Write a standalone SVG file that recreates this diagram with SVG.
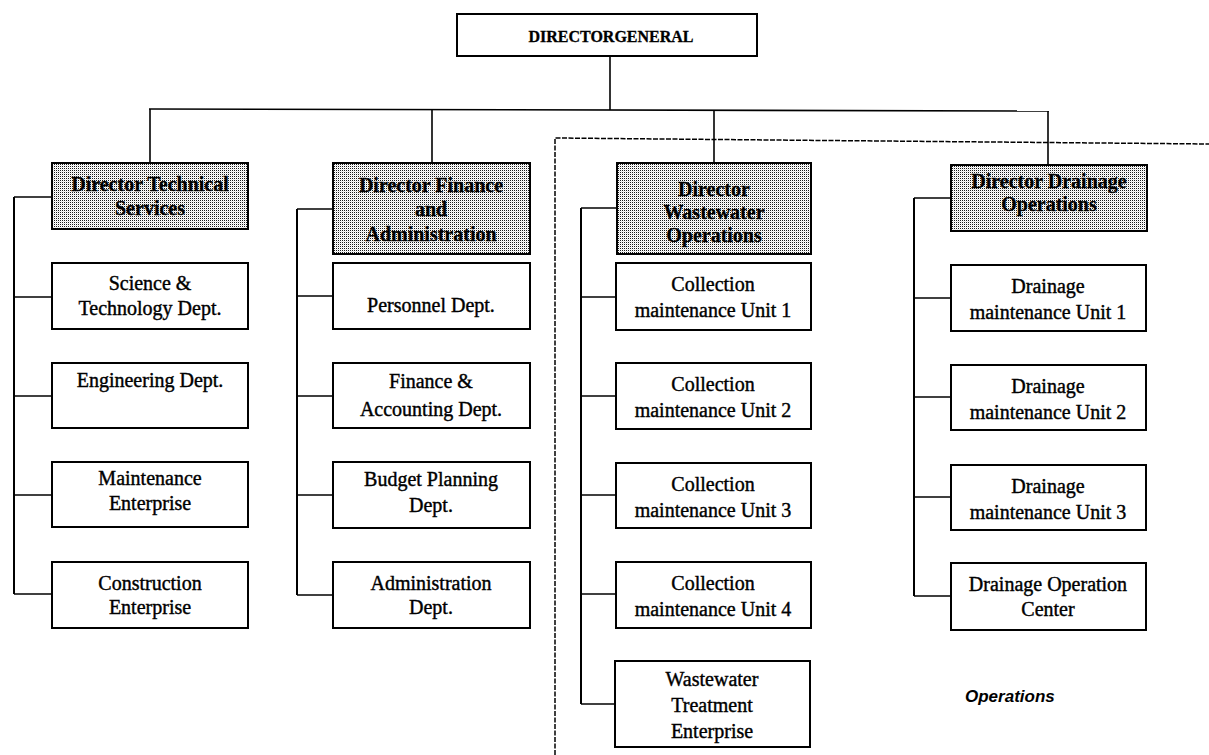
<svg xmlns="http://www.w3.org/2000/svg" width="1209" height="755" viewBox="0 0 1209 755">
  <defs>
    <!-- halftone screen used for the director boxes -->
    <pattern id="dots" patternUnits="userSpaceOnUse" x="0" y="0" width="2" height="2">
      <rect x="0" y="0" width="2" height="2" fill="#ffffff"/>
      <rect x="0" y="0" width="1" height="1" fill="#1a1a1a"/>
      <rect x="1" y="1" width="1" height="1" fill="#e2e2e2"/>
    </pattern>
    <style>
      .box { fill: #ffffff; stroke: #000000; stroke-width: 2; }
      .hdr { fill: url(#dots); stroke: #000000; stroke-width: 2; }
      .t { font-family: "Liberation Serif", "Times New Roman", serif; font-size: 20px; text-anchor: middle; fill: #000000; stroke: #000000; stroke-width: 0.4; }
      .h { font-weight: bold; font-size: 20px; stroke-width: 0.3; }
      .dg { font-weight: bold; font-size: 16px; stroke-width: 0.3; }
      .note { font-family: "Liberation Sans", Arial, sans-serif; font-style: italic; font-weight: bold; font-size: 17px; fill: #000000; }
      .conn line { stroke: #000000; stroke-width: 1.6; fill: none; }
      .conn .trunk { stroke-width: 2; }
      .boundary { stroke: #000000; stroke-width: 1.5; stroke-dasharray: 5 1.5; fill: none; }
    </style>
  </defs>

  <rect x="0" y="0" width="1209" height="755" fill="#ffffff"/>

  <!-- connectors -->
  <g id="connectors" class="conn">
    <!-- from the director general down to the four directors -->
    <line x1="610" y1="56" x2="610" y2="110"/>
    <line x1="149" y1="109" x2="1049" y2="111"/>
    <line x1="150" y1="109" x2="150" y2="163"/>
    <line x1="432" y1="110" x2="432" y2="163"/>
    <line x1="714" y1="110" x2="714" y2="163"/>
    <line x1="1048" y1="111" x2="1048" y2="165"/>

    <!-- technical services -->
    <line class="trunk" x1="14" y1="197" x2="14" y2="594"/>
    <line x1="14" y1="197" x2="52" y2="197"/>
    <line x1="14" y1="297" x2="52" y2="297"/>
    <line x1="14" y1="396" x2="52" y2="396"/>
    <line x1="14" y1="495" x2="52" y2="495"/>
    <line x1="14" y1="594" x2="52" y2="594"/>

    <!-- finance and administration -->
    <line class="trunk" x1="297" y1="209" x2="297" y2="595"/>
    <line x1="297" y1="209" x2="333" y2="209"/>
    <line x1="297" y1="296" x2="333" y2="296"/>
    <line x1="297" y1="396" x2="333" y2="396"/>
    <line x1="297" y1="495" x2="333" y2="495"/>
    <line x1="297" y1="595" x2="333" y2="595"/>

    <!-- wastewater operations -->
    <line class="trunk" x1="581" y1="208" x2="581" y2="704"/>
    <line x1="581" y1="208" x2="617" y2="208"/>
    <line x1="581" y1="297" x2="616" y2="297"/>
    <line x1="581" y1="396" x2="616" y2="396"/>
    <line x1="581" y1="495" x2="616" y2="495"/>
    <line x1="581" y1="594" x2="616" y2="594"/>
    <line x1="581" y1="704" x2="616" y2="704"/>

    <!-- drainage operations -->
    <line class="trunk" x1="914" y1="198" x2="914" y2="596"/>
    <line x1="914" y1="198" x2="951" y2="198"/>
    <line x1="914" y1="298" x2="951" y2="298"/>
    <line x1="914" y1="397" x2="951" y2="397"/>
    <line x1="914" y1="497" x2="951" y2="497"/>
    <line x1="914" y1="596" x2="951" y2="596"/>
  </g>

  <!-- operations boundary -->
  <polyline class="boundary" points="555,755 555,138 1209,144"/>

  <g id="director-general">
    <rect class="box" x="457" y="14" width="300" height="42"/>
    <text class="t dg" x="611" y="42">DIRECTORGENERAL</text>
  </g>

  <!-- technical services column -->
  <g id="dir-technical">
    <rect class="hdr" x="52" y="163" width="196" height="66"/>
    <text class="t h" x="150" y="191">Director Technical</text>
    <text class="t h" x="150" y="215">Services</text>
  </g>
  <g id="science-technology">
    <rect class="box" x="52" y="263" width="196" height="66"/>
    <text class="t" x="150" y="290">Science &amp;</text>
    <text class="t" x="150" y="315">Technology Dept.</text>
  </g>
  <g id="engineering">
    <rect class="box" x="52" y="363" width="196" height="65"/>
    <text class="t" x="150" y="387">Engineering Dept.</text>
  </g>
  <g id="maintenance-enterprise">
    <rect class="box" x="52" y="462" width="196" height="65"/>
    <text class="t" x="150" y="485">Maintenance</text>
    <text class="t" x="150" y="510">Enterprise</text>
  </g>
  <g id="construction-enterprise">
    <rect class="box" x="52" y="562" width="196" height="66"/>
    <text class="t" x="150" y="590">Construction</text>
    <text class="t" x="150" y="614">Enterprise</text>
  </g>

  <!-- finance and administration column -->
  <g id="dir-finance">
    <rect class="hdr" x="333" y="163" width="197" height="91"/>
    <text class="t h" x="431" y="192">Director Finance</text>
    <text class="t h" x="431" y="216">and</text>
    <text class="t h" x="431" y="241">Administration</text>
  </g>
  <g id="personnel">
    <rect class="box" x="333" y="263" width="197" height="66"/>
    <text class="t" x="431" y="312">Personnel Dept.</text>
  </g>
  <g id="finance-accounting">
    <rect class="box" x="333" y="363" width="197" height="65"/>
    <text class="t" x="431" y="388">Finance &amp;</text>
    <text class="t" x="431" y="416">Accounting Dept.</text>
  </g>
  <g id="budget-planning">
    <rect class="box" x="333" y="462" width="197" height="66"/>
    <text class="t" x="431" y="486">Budget Planning</text>
    <text class="t" x="431" y="512">Dept.</text>
  </g>
  <g id="administration">
    <rect class="box" x="333" y="562" width="197" height="66"/>
    <text class="t" x="431" y="590">Administration</text>
    <text class="t" x="431" y="614">Dept.</text>
  </g>

  <!-- wastewater operations column -->
  <g id="dir-wastewater">
    <rect class="hdr" x="617" y="163" width="194" height="91"/>
    <text class="t h" x="714" y="196">Director</text>
    <text class="t h" x="714" y="219">Wastewater</text>
    <text class="t h" x="714" y="242">Operations</text>
  </g>
  <g id="collection-1">
    <rect class="box" x="616" y="263" width="195" height="67"/>
    <text class="t" x="713" y="291">Collection</text>
    <text class="t" x="713" y="317">maintenance Unit 1</text>
  </g>
  <g id="collection-2">
    <rect class="box" x="616" y="363" width="195" height="66"/>
    <text class="t" x="713" y="391">Collection</text>
    <text class="t" x="713" y="417">maintenance Unit 2</text>
  </g>
  <g id="collection-3">
    <rect class="box" x="616" y="463" width="195" height="65"/>
    <text class="t" x="713" y="491">Collection</text>
    <text class="t" x="713" y="517">maintenance Unit 3</text>
  </g>
  <g id="collection-4">
    <rect class="box" x="616" y="562" width="195" height="66"/>
    <text class="t" x="713" y="590">Collection</text>
    <text class="t" x="713" y="616">maintenance Unit 4</text>
  </g>
  <g id="wastewater-treatment">
    <rect class="box" x="615" y="661" width="195" height="86"/>
    <text class="t" x="712" y="686">Wastewater</text>
    <text class="t" x="712" y="712">Treatment</text>
    <text class="t" x="712" y="738">Enterprise</text>
  </g>

  <!-- drainage operations column -->
  <g id="dir-drainage">
    <rect class="hdr" x="951" y="165" width="196" height="66"/>
    <text class="t h" x="1049" y="188">Director Drainage</text>
    <text class="t h" x="1049" y="211">Operations</text>
  </g>
  <g id="drainage-1">
    <rect class="box" x="951" y="265" width="195" height="66"/>
    <text class="t" x="1048" y="293">Drainage</text>
    <text class="t" x="1048" y="319">maintenance Unit 1</text>
  </g>
  <g id="drainage-2">
    <rect class="box" x="951" y="365" width="195" height="65"/>
    <text class="t" x="1048" y="393">Drainage</text>
    <text class="t" x="1048" y="419">maintenance Unit 2</text>
  </g>
  <g id="drainage-3">
    <rect class="box" x="951" y="465" width="195" height="65"/>
    <text class="t" x="1048" y="493">Drainage</text>
    <text class="t" x="1048" y="519">maintenance Unit 3</text>
  </g>
  <g id="drainage-operation-center">
    <rect class="box" x="951" y="563" width="195" height="67"/>
    <text class="t" x="1048" y="591">Drainage Operation</text>
    <text class="t" x="1048" y="616">Center</text>
  </g>

  <text class="note" x="965" y="702">Operations</text>
</svg>
